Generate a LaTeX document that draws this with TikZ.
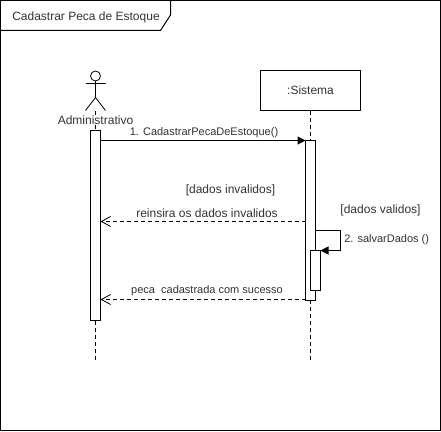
\documentclass[tikz,border=0pt]{standalone}
\usepackage{fontspec}
\setmainfont{Liberation Sans}
\usetikzlibrary{arrows.meta}
\tikzset{
	bar/.style={draw,fill=white,line width=0.75pt,minimum width=7.5pt,inner sep=0pt},
	call/.style={line width=0.75pt,-{Triangle[length=6pt,width=6pt]}},
	back/.style={line width=0.6pt,dash pattern=on 3pt off 2.25pt,-{Straight Barb[length=7pt,width=7.5pt]}},
	life/.style={line width=0.75pt,dash pattern=on 3pt off 2.25pt},
	stick/.style={line width=0.6pt},
	lbl/.style={font=\fontsize{9pt}{11pt}\selectfont,text=black!80,inner sep=0pt},
	msg/.style={font=\fontsize{8.25pt}{10pt}\selectfont,text=black!80,inner sep=0pt}
}
\begin{document}
\begin{tikzpicture}[x=0.75pt,y=-0.75pt]
	\useasboundingbox (0,0) rectangle (441,431);
	\fill[white] (0,0) rectangle (441,431);
	% frame
	\draw[line width=0.75pt] (0.5,0.5) rectangle (440,430);
	\draw[line width=0.75pt] (170.5,0.5)--(170.5,15)--(160.5,30.5)--(0.5,30.5);
	\node[lbl] (title) at (86,17) {Cadastrar Peca de Estoque};
	% actor
	\coordinate (head) at (95.5,76);
	\coordinate (neck) at (95.5,81);
	\coordinate (hip) at (95.5,97.5);
	\draw[stick] (head) circle (5);
	\draw[stick] (neck)--(hip);
	\draw[stick] (85.5,83.5)--(105.5,83.5);
	\draw[stick] (85.5,110.5)--(hip)--(105.5,110.5);
	% lifelines
	\node[draw,line width=0.75pt,minimum width=75pt,minimum height=30pt,inner sep=0pt,fill=white,lbl] (sis) at (310.5,90.5) {:Sistema};
	\coordinate (a1) at (95.5,111);
	\coordinate (a2) at (95.5,360);
	\coordinate (s2) at (310.5,360);
	\draw[life] (a1)--(a2);
	\draw[life] (sis.south)--(s2);
	\node[lbl,fill=white] (admin) at (95.5,120.5) {Administrativo};
	% activations
	\node[bar,minimum height=142.5pt] (barA) at (95.5,225.5) {};
	\node[bar,minimum height=120pt] (barS) at (310.5,220.5) {};
	\node[bar,minimum height=30pt] (barT) at (315.5,270.5) {};
	% messages
	\draw[call] (100.5,140.5)--(305.5,140.5);
	\node[msg] (m1) at (204,132.5) {1. CadastrarPecaDeEstoque()};
	\node[lbl] (g1) at (230.5,190.5) {[dados invalidos]};
	\draw[back] (305.5,221.5)--(100.5,221.5);
	\node[lbl] (m2) at (207,213) {reinsira os dados invalidos};
	\node[lbl] (g2) at (380.5,210.5) {[dados validos]};
	\draw[call] (315.5,230.5)--(340.5,230.5)--(340.5,250.5)--(320.5,250.5);
	\node[msg,anchor=west] (m3) at (344,239.5) {2. salvarDados ()};
	\draw[back] (305.5,299.5)--(100.5,299.5);
	\node[msg] (m4) at (207,290.5) {peca\ \ cadastrada com sucesso};
\end{tikzpicture}
\end{document}
